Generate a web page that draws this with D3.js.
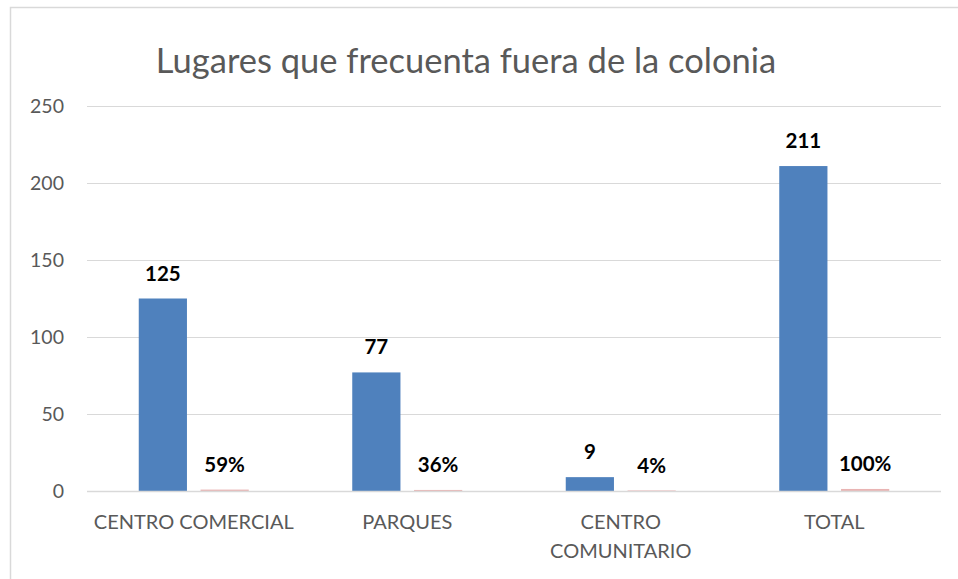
<!DOCTYPE html>
<html lang="es">
<head>
  <meta charset="UTF-8">
  <title>Lugares que frecuenta fuera de la colonia</title>
  <script src="https://d3js.org/d3.v7.min.js"></script>
  <style>
    body { margin: 0; background: #ffffff; overflow: hidden; }
    svg text { font-family: Lato, "Noto Sans", sans-serif; }
    .grid line { stroke: #d9d9d9; stroke-width: 1px; }
    .tick text { fill: #595959; font-size: 19.5px; }
    .lbl { font-weight: bold; font-size: 20.5px; fill: #000; text-anchor: middle; }
  </style>
</head>
<body>
  <svg id="chart" width="958" height="579"></svg>
  <script>
    const categories = [["CENTRO COMERCIAL"], ["PARQUES"], ["CENTRO", "COMUNITARIO"], ["TOTAL"]];
    const counts = [125, 77, 9, 211];
    const shares = [0.59, 0.36, 0.04, 1.00];
    const shareLabels = ["59%", "36%", "4%", "100%"];
    const yTicks = [0, 50, 100, 150, 200, 250];

    const svg = d3.select("#chart");
    const margin = { left: 87, right: 17, top: 106, bottom: 88 };
    const width = 958 - margin.left - margin.right;
    const height = 579 - margin.top - margin.bottom;

    // outer chart frame (runs off the right and bottom edges)
    svg.append("rect")
      .attr("x", 10.5).attr("y", 7.5)
      .attr("width", 980).attr("height", 600)
      .attr("fill", "none").attr("stroke", "#d9d9d9").attr("stroke-width", 1.5);

    svg.append("text")
      .attr("x", 466).attr("y", 73)
      .attr("text-anchor", "middle")
      .attr("font-size", 34.5)
      .attr("fill", "#595959")
      .text("Lugares que frecuenta fuera de la colonia");

    const g = svg.append("g").attr("transform", `translate(${margin.left},${margin.top})`);

    const x = d3.scaleBand().domain(d3.range(categories.length)).range([0, width]);
    const x1 = d3.scaleBand().domain([0, 1]).range([x.bandwidth() / 2 - 55, x.bandwidth() / 2 + 55]).paddingInner(0.22);
    const y = d3.scaleLinear().domain([0, 250]).range([height, 0]);

    // gridlines
    g.append("g").attr("class", "grid")
      .selectAll("line").data(yTicks).enter().append("line")
      .attr("x1", 0).attr("x2", width)
      .attr("y1", d => Math.round(y(d)) + 0.5).attr("y2", d => Math.round(y(d)) + 0.5);

    // y axis labels
    const yAxis = g.append("g").call(d3.axisLeft(y).tickValues(yTicks).tickSize(0).tickPadding(23));
    yAxis.select(".domain").remove();

    const groups = g.selectAll("g.cat").data(d3.range(categories.length)).enter()
      .append("g").attr("class", "cat")
      .attr("transform", i => `translate(${x(i)},0)`);

    groups.append("rect")
      .attr("x", x1(0)).attr("width", x1.bandwidth())
      .attr("y", i => y(counts[i])).attr("height", i => height - y(counts[i]))
      .attr("fill", "#4f81bd");

    groups.append("rect")
      .attr("x", x1(1)).attr("width", x1.bandwidth())
      .attr("y", i => y(shares[i]) - 0.5).attr("height", i => height - y(shares[i]) + 0.5)
      .attr("fill", "#e9b4b3");

    groups.append("text").attr("class", "lbl")
      .attr("x", x1(0) + x1.bandwidth() / 2)
      .attr("y", i => y(counts[i]) - 18)
      .text(i => counts[i]);

    groups.append("text").attr("class", "lbl")
      .attr("x", x1(1) + x1.bandwidth() / 2)
      .attr("y", i => y(shares[i]) - 18)
      .text(i => shareLabels[i]);

    // baseline
    g.append("line")
      .attr("x1", 0).attr("x2", width)
      .attr("y1", height + 0.5).attr("y2", height + 0.5)
      .attr("stroke", "#d9d9d9").attr("stroke-width", 1.5);

    // category labels
    const xl = groups.append("text")
      .attr("text-anchor", "middle")
      .attr("fill", "#595959")
      .attr("font-size", 20)
      .attr("transform", `translate(${x.bandwidth() / 2},${height + 38})`);
    xl.selectAll("tspan").data(i => categories[i]).enter().append("tspan")
      .attr("x", 0).attr("dy", (d, k) => k === 0 ? 0 : 29)
      .text(d => d);
  </script>
</body>
</html>
